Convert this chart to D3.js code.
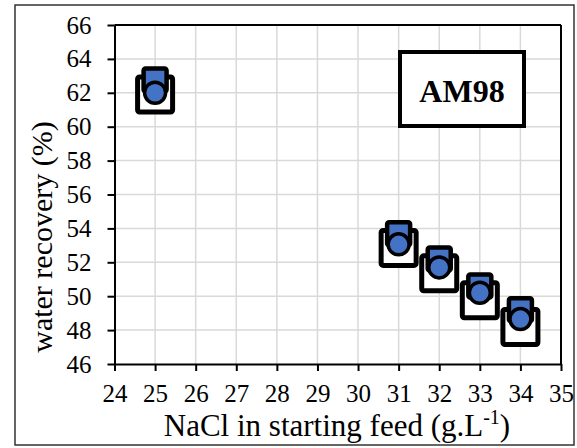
<!DOCTYPE html>
<html><head><meta charset="utf-8">
<script src="https://cdn.jsdelivr.net/npm/d3@7"></script>
<style>body{margin:0;background:#fff}svg{display:block}</style>
</head><body><svg id="c" width="577" height="448" font-family="Liberation Serif, Times New Roman, serif"></svg>
<script>
const nacl = [25, 31, 32, 33, 34];
const recoveryCircle = [62.0, 53.06, 51.7, 50.2, 48.65];
const recoveryBlueSquare = [62.76, 53.68, 52.2, 50.6, 49.2];
const recoveryWhiteSquare = [61.9, 52.85, 51.35, 49.76, 48.18];
const xTicks = [24,25,26,27,28,29,30,31,32,33,34,35];
const yTicks = [46,48,50,52,54,56,58,60,62,64,66];
const label = "AM98";

const svg = d3.select("#c");
const L = 114.5, R = 561, T = 25, B = 364;
const x = d3.scaleLinear().domain([24,35]).range([L,R]);
const y = d3.scaleLinear().domain([46,66]).range([B,T]);

// outer border
svg.append("rect").attr("x",15).attr("y",5).attr("width",559).attr("height",440)
  .attr("fill","none").attr("stroke","#333").attr("stroke-width",1.5);

// grid
const g = svg.append("g");
g.selectAll(".gx").data(xTicks.slice(1,-1)).join("line")
  .attr("x1",d=>x(d)).attr("x2",d=>x(d)).attr("y1",T).attr("y2",B)
  .attr("stroke","#d9d9d9").attr("stroke-width",1.5);
g.selectAll(".gy").data(yTicks.slice(1,-1)).join("line")
  .attr("x1",L).attr("x2",R).attr("y1",d=>y(d)).attr("y2",d=>y(d))
  .attr("stroke","#d9d9d9").attr("stroke-width",1.5);

// frame top/right
svg.append("line").attr("x1",L).attr("x2",R).attr("y1",T).attr("y2",T).attr("stroke","#000").attr("stroke-width",2);
svg.append("line").attr("x1",R).attr("x2",R).attr("y1",T).attr("y2",B).attr("stroke","#000").attr("stroke-width",2);

// axes
const xa = svg.append("g").attr("transform",`translate(0,${B})`)
  .call(d3.axisBottom(x).tickValues(xTicks).tickSize(7).tickPadding(13).tickSizeOuter(0).tickFormat(d3.format("d")));
const ya = svg.append("g").attr("transform",`translate(${L},0)`)
  .call(d3.axisLeft(y).tickValues(yTicks).tickSize(7).tickPadding(16).tickSizeOuter(0).tickFormat(d3.format("d")));
[xa,ya].forEach(a=>{
  a.attr("font-family","Liberation Serif, serif").attr("font-size",25);
  a.select(".domain").attr("stroke","#000").attr("stroke-width",2);
  a.selectAll(".tick line").attr("stroke","#000").attr("stroke-width",2);
  a.selectAll(".tick text").attr("fill","#000");
});

// markers
const blue = "#4472C4";
const ws = 35, bs = 23, cr = 10.5;
svg.append("g").selectAll("rect").data(nacl).join("rect")
  .attr("x",(d)=>x(d)-ws/2).attr("y",(d,i)=>y(recoveryWhiteSquare[i])-ws/2)
  .attr("width",ws).attr("height",ws).attr("rx",2)
  .attr("fill","#fff").attr("stroke","#000").attr("stroke-width",5);
svg.append("g").selectAll("rect").data(nacl).join("rect")
  .attr("x",(d)=>x(d)-bs/2).attr("y",(d,i)=>y(recoveryBlueSquare[i])-bs/2)
  .attr("width",bs).attr("height",bs).attr("rx",2)
  .attr("fill",blue).attr("stroke","#000").attr("stroke-width",4.5);
svg.append("g").selectAll("circle").data(nacl).join("circle")
  .attr("cx",(d)=>x(d)).attr("cy",(d,i)=>y(recoveryCircle[i])).attr("r",cr)
  .attr("fill",blue).attr("stroke","#000").attr("stroke-width",3.5);

// label box
svg.append("rect").attr("x",400).attr("y",52).attr("width",124).attr("height",74)
  .attr("fill","#fff").attr("stroke","#000").attr("stroke-width",4);
svg.append("text").attr("x",462).attr("y",102).attr("text-anchor","middle")
  .attr("font-size",32).attr("font-weight","bold").text(label);

// axis titles
const xt = svg.append("text").attr("x",337).attr("y",436).attr("text-anchor","middle").attr("font-size",31);
xt.append("tspan").text("NaCl in starting feed (g.L");
xt.append("tspan").attr("font-size",20).attr("dy",-12).text("-1");
xt.append("tspan").attr("dy",12).text(")");

svg.append("text").attr("transform","translate(52,237) rotate(-90)").attr("text-anchor","middle")
  .attr("font-size",30).text("water recovery (%)");
</script></body></html>
